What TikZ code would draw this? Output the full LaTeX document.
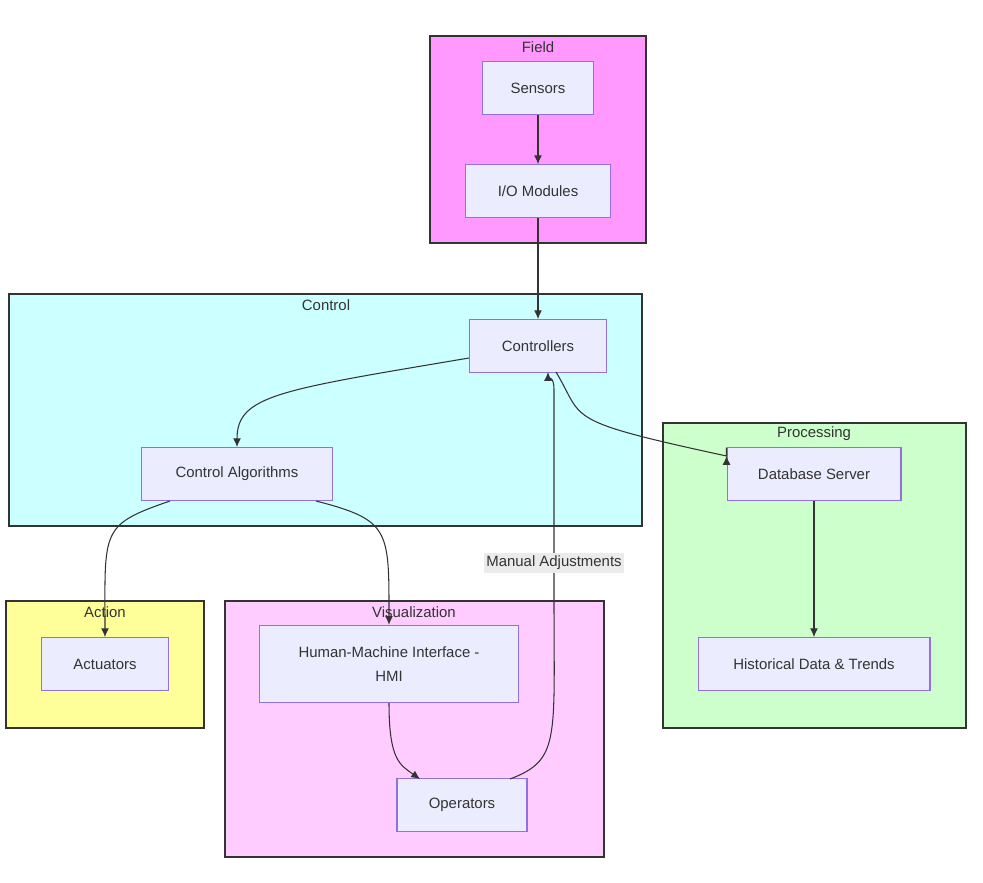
\documentclass[tikz,border=0pt]{standalone}
\usepackage{fontspec}
\setmainfont{Liberation Sans}
\usetikzlibrary{arrows.meta}
\definecolor{nodefill}{HTML}{ECECFF}
\definecolor{nodeline}{HTML}{9370DB}
\definecolor{fieldfill}{HTML}{FF99FF}
\definecolor{controlfill}{HTML}{CCFFFF}
\definecolor{procfill}{HTML}{CCFFCC}
\definecolor{actfill}{HTML}{FFFF99}
\definecolor{visfill}{HTML}{FFCCFF}
\definecolor{edgecol}{HTML}{333333}
\tikzset{
  box/.style={draw=nodeline,fill=nodefill,line width=0.6pt,minimum height=30pt,inner sep=0pt,align=center,font=\fontsize{8.5}{13.5}\selectfont,text=edgecol},
  group/.style={draw=edgecol,line width=0.9pt},
  grouptitle/.style={font=\fontsize{8.5}{10}\selectfont,text=edgecol},
  flow/.style={draw=edgecol,line width=0.6pt,-{Latex[length=5pt,width=4.5pt]}}
}
\begin{document}
\begin{tikzpicture}[x=0.02cm,y=-0.02cm]
  \useasboundingbox (0,0) rectangle (983,882);
  % groups
  \draw[group,fill=fieldfill] (430,36) rectangle (646,243);
  \node[grouptitle] (fieldT) at (538,47) {Field};
  \draw[group,fill=controlfill] (9,294) rectangle (642,526);
  \node[grouptitle] (controlT) at (326,305) {Control};
  \draw[group,fill=procfill] (663,423) rectangle (966,728);
  \node[grouptitle] (procT) at (814,434) {Processing};
  \draw[group,fill=actfill] (6,601) rectangle (204,728);
  \node[grouptitle] (actT) at (105,612) {Action};
  \draw[group,fill=visfill] (225,601) rectangle (604,857);
  \node[grouptitle] (visT) at (414,612) {Visualization};
  % nodes
  \node[box,minimum width=63pt] (S) at (538,88) {Sensors};
  \node[box,minimum width=82pt] (IO) at (538,191) {I/O Modules};
  \node[box,minimum width=78pt] (C) at (538,346) {Controllers};
  \node[box,minimum width=109pt] (CA) at (237,474) {Control Algorithms};
  \node[box,minimum width=99pt] (DB) at (814,474) {Database Server};
  \node[box,minimum width=132pt] (HD) at (814,664) {Historical Data \& Trends};
  \node[box,minimum width=72pt] (A) at (105,664) {Actuators};
  \node[box,minimum width=147pt,minimum height=44pt] (HMI) at (389,664) {Human-Machine Interface -\\HMI};
  \node[box,minimum width=74pt] (O) at (462,805) {Operators};
  % edges
  \draw[flow] (S) -- (IO);
  \draw[flow] (IO) -- (C);
  \draw[flow] (C.west |- 0,358) .. controls (280,390) and (237,395) .. (CA.north);
  \draw[flow] (556,372) .. controls (585,420) and (560,420) .. (DB.north west |- 0,456) -- (DB.west |- 0,456);
  \draw[flow] (170,501) .. controls (100,525) and (105,530) .. (A.north);
  \draw[flow] (316,501) .. controls (390,520) and (389,530) .. (HMI.north);
  \draw[flow] (HMI.south) .. controls (389,760) and (400,765) .. (420,779);
  \draw[flow] (510,779) .. controls (560,760) and (554,740) .. (554,600) -- (554,390) .. controls (554,375) and (548,378) .. (548,372);
  \node[fill=black!8,inner sep=1.5pt,font=\fontsize{8.5}{10}\selectfont,text=edgecol] (MA) at (554,563) {Manual Adjustments};
  \draw[flow] (DB) -- (HD);
\end{tikzpicture}
\end{document}
